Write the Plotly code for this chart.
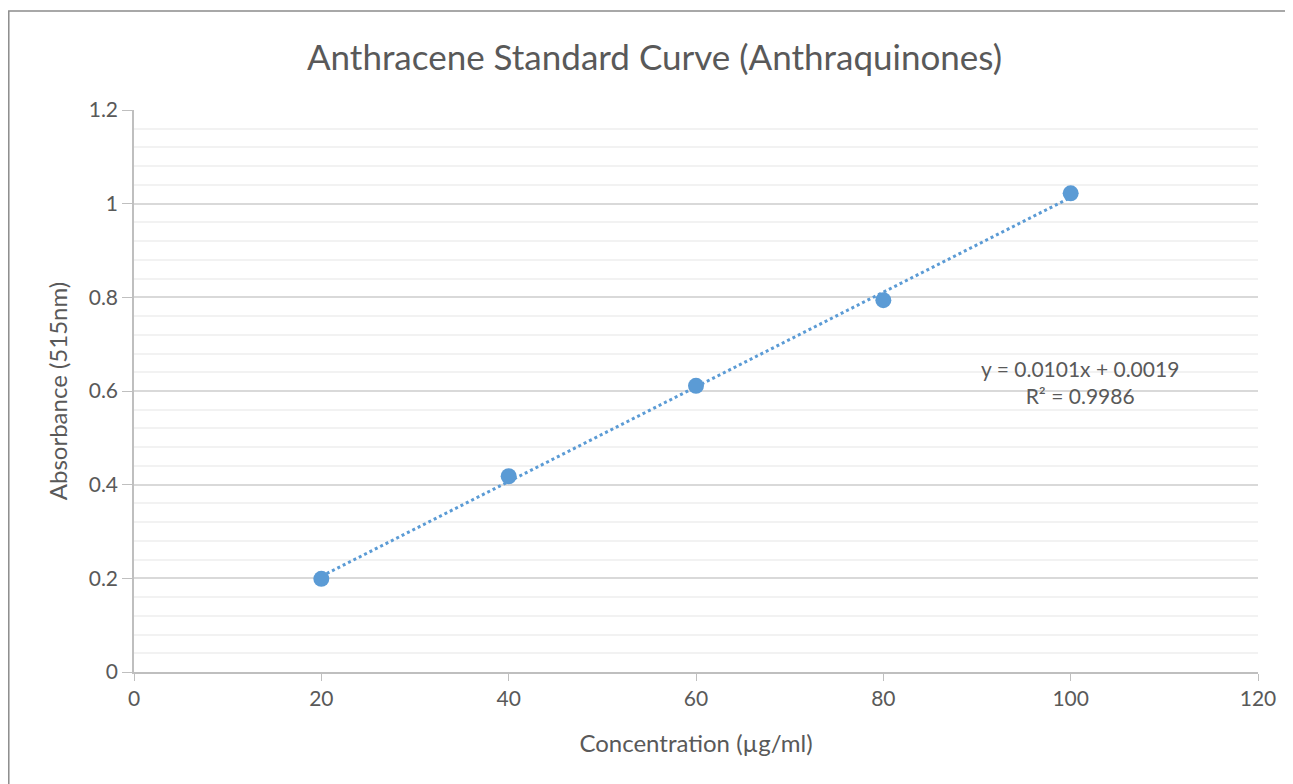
import numpy as np
import plotly.graph_objects as go

# data
concentration = [20, 40, 60, 80, 100]
absorbance = [0.199, 0.418, 0.611, 0.794, 1.022]
x_ticks = [0, 20, 40, 60, 80, 100, 120]
y_ticks = [0, 0.2, 0.4, 0.6, 0.8, 1, 1.2]
y_labels = ["0", "0.2", "0.4", "0.6", "0.8", "1", "1.2"]
eq_text = "y = 0.0101x + 0.0019<br>R² = 0.9986"

BLUE = "#5b9bd5"
GREY = "#595959"
FONT = "Lato"

# linear trendline from the points
slope, intercept = np.polyfit(concentration, absorbance, 1)
trend_x = [min(concentration), max(concentration)]
trend_y = [slope * v + intercept for v in trend_x]

fig = go.Figure()
fig.add_trace(go.Scatter(x=trend_x, y=trend_y, mode="lines",
                         line=dict(color=BLUE, width=3, dash="dot"),
                         hoverinfo="skip"))
fig.add_trace(go.Scatter(x=concentration, y=absorbance, mode="markers",
                         marker=dict(color=BLUE, size=16)))

fig.add_annotation(x=101, y=0.62, xref="x", yref="y", text=eq_text,
                   showarrow=False, align="center",
                   font=dict(family=FONT, size=21, color=GREY))

# outer chart border
fig.add_shape(type="rect", xref="paper", yref="paper",
              x0=-0.1114, x1=1.05, y0=-0.25, y1=1.176,
              line=dict(color="#8c8c8c", width=1.5), layer="below")

fig.update_layout(
    width=1293, height=784,
    margin=dict(l=126, r=43, t=102, b=120),
    paper_bgcolor="white", plot_bgcolor="white",
    showlegend=False,
    font=dict(family=FONT, color=GREY),
    title=dict(text="Anthracene Standard Curve (Anthraquinones)",
               x=0.5, xanchor="center", y=0.936, yanchor="middle",
               font=dict(family=FONT, size=35, color=GREY)),
)
fig.update_xaxes(range=[0, 120], tickvals=x_ticks, showgrid=False, zeroline=False,
                 showline=True, linecolor="#bfbfbf", linewidth=1.5,
                 ticks="outside", ticklen=7, tickcolor="#bfbfbf",
                 tickfont=dict(size=21, color=GREY),
                 title=dict(text="Concentration (µg/ml)", standoff=26,
                            font=dict(size=24, color=GREY)))
fig.update_yaxes(range=[0, 1.2], tickvals=y_ticks, ticktext=y_labels,
                 showgrid=True, gridcolor="#d9d9d9", gridwidth=1.5, zeroline=False,
                 showline=True, linecolor="#bfbfbf", linewidth=1.5,
                 ticks="outside", ticklen=10, tickcolor="#bfbfbf",
                 minor=dict(dtick=0.04, showgrid=True, gridcolor="#f2f2f2", gridwidth=1.5),
                 tickfont=dict(size=21, color=GREY),
                 title=dict(text="Absorbance (515nm)", standoff=14,
                            font=dict(size=24, color=GREY)))

fig.write_html("out.html")
